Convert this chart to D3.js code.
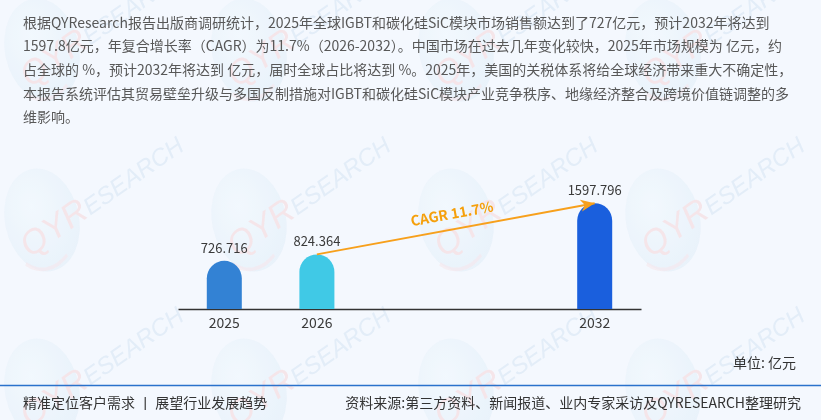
<!DOCTYPE html>
<html>
<head>
<meta charset="utf-8">
<script src="https://cdn.jsdelivr.net/npm/d3@7/dist/d3.min.js"></script>
<style>
  html, body { margin: 0; padding: 0; background: #f4f8fe; }
  svg { display: block; font-family: "Microsoft YaHei", "Noto Sans CJK SC", sans-serif; }
</style>
</head>
<body>
<div id="chart"></div>
<script>
// chart data
const years = ["2025", "2026", "2032"];
const values = [726.716, 824.364, 1597.796];
const barColors = ["#3382d4", "#40c9e6", "#1a5fdd"];
// the category axis keeps two empty slots between 2026 and 2032
const slots = ["2025", "2026", "s1", "s2", "2032"];
const cagrLabel = "CAGR 11.7%";
const unitLabel = "单位: 亿元";

const paragraph = [
  "根据QYResearch报告出版商调研统计，2025年全球IGBT和碳化硅SiC模块市场销售额达到了727亿元，预计2032年将达到",
  "1597.8亿元，年复合增长率（CAGR）为11.7%（2026-2032）。中国市场在过去几年变化较快，2025年市场规模为 亿元，约",
  "占全球的 %，预计2032年将达到 亿元，届时全球占比将达到 %。2025年，美国的关税体系将给全球经济带来重大不确定性，",
  "本报告系统评估其贸易壁垒升级与多国反制措施对IGBT和碳化硅SiC模块产业竞争秩序、地缘经济整合及跨境价值链调整的多",
  "维影响。"
];
const footerLeft = "精准定位客户需求 丨 展望行业发展趋势";
const footerRight = "资料来源:第三方资料、新闻报道、业内专家采访及QYRESEARCH整理研究";

const W = 821, H = 420;
const svg = d3.select("#chart").append("svg")
    .attr("width", W)
    .attr("height", H);

svg.append("rect").attr("width", W).attr("height", H).attr("fill", "#f4f8fe");

// faint logo watermarks
const defs = svg.append("defs");
const grad = defs.append("radialGradient").attr("id", "globe").attr("cx", "40%").attr("cy", "35%").attr("r", "65%");
grad.append("stop").attr("offset", "0%").attr("stop-color", "#f0f7fd");
grad.append("stop").attr("offset", "100%").attr("stop-color", "#dbeaf6");

const wm = defs.append("g").attr("id", "wm");
wm.append("ellipse")
    .attr("rx", 37).attr("ry", 52)
    .attr("transform", "rotate(-12)")
    .attr("fill", "url(#globe)")
    .attr("opacity", 0.6);
wm.append("path")
    .attr("d", d3.arc()({innerRadius: 38, outerRadius: 41, startAngle: Math.PI * 0.75, endAngle: Math.PI * 1.15}))
    .attr("transform", "scale(0.9,1.25)")
    .attr("fill", "#f6dfe2")
    .attr("opacity", 0.6);
const wmText = wm.append("text")
    .attr("transform", "translate(-12,38) rotate(-35)")
    .attr("font-style", "italic")
    .attr("font-family", "Arial, 'Liberation Sans', sans-serif");
wmText.append("tspan").attr("font-size", 34).attr("fill", "#f5dde0").text("QYR");
wmText.append("tspan").attr("font-size", 24).attr("fill", "#dbe8f5").text("ESEARCH");

const wmLayer = svg.append("g").attr("opacity", 0.7);
for (let j = 0; j < 3; j++) {
  for (let k = 0; k < 4; k++) {
    wmLayer.append("use").attr("href", "#wm")
        .attr("x", 42 + 207 * k)
        .attr("y", 50 + 170 * j);
  }
}

// intro text
svg.append("g").selectAll("text").data(paragraph)
  .enter()
  .append("text")
    .attr("x", 23)
    .attr("y", (d, i) => 27.5 + i * 23.7)
    .attr("font-size", 14)
    .attr("fill", "#585858")
    .text(d => d);

// scales
const x = d3.scaleBand()
    .domain(slots)
    .range([178, 641])
    .paddingInner(0.622)
    .paddingOuter(0.311);
const y = d3.scaleLinear()
    .domain([0, 1600])
    .range([309, 203]);

const xAxis = d3.axisBottom(x)
    .tickValues(years)
    .tickSize(0)
    .tickPadding(9);
const axisG = svg.append("g")
    .attr("transform", `translate(0,${y(0)})`)
    .call(xAxis);
axisG.select(".domain").attr("stroke", "#333").attr("stroke-width", 1.4);
axisG.selectAll(".tick text")
    .attr("font-size", 14)
    .attr("fill", "#3a3a3a")
    .attr("font-family", "'Microsoft YaHei', 'Noto Sans CJK SC', sans-serif");

function roundTop(d, i) {
  const x0 = x(d), w = x.bandwidth(), r = w / 2;
  const t = y(values[i]), b = y(0);
  return `M${x0},${b}L${x0},${t + r}A${r},${r} 0 0 1 ${x0 + w},${t + r}L${x0 + w},${b}Z`;
}

svg.append("g").selectAll("path").data(years)
  .enter()
  .append("path")
    .attr("d", roundTop)
    .attr("fill", (d, i) => barColors[i]);

svg.append("g").selectAll("text").data(years)
  .enter()
  .append("text")
    .attr("x", d => x(d) + x.bandwidth() / 2)
    .attr("y", (d, i) => y(values[i]) - 8)
    .attr("text-anchor", "middle")
    .attr("font-size", 13)
    .attr("fill", "#3a3a3a")
    .text((d, i) => values[i]);

// CAGR arrow from 2026 to 2032
const ax0 = x("2026") + x.bandwidth() / 2, ay0 = y(values[1]);
const ax1 = x("2032") + x.bandwidth() / 2, ay1 = y(values[2]);
defs.append("marker")
    .attr("id", "head")
    .attr("viewBox", "-14 -7 16 14")
    .attr("markerWidth", 16)
    .attr("markerHeight", 14)
    .attr("markerUnits", "userSpaceOnUse")
    .attr("orient", "auto")
    .append("path")
    .attr("d", "M0,0L-14,-6L-10,0L-14,6Z")
    .attr("fill", "#f7a01c");

svg.append("line")
    .attr("x1", ax0).attr("y1", ay0)
    .attr("x2", ax1).attr("y2", ay1)
    .attr("stroke", "#f7a01c")
    .attr("stroke-width", 2)
    .attr("marker-end", "url(#head)");

const angle = Math.atan2(ay1 - ay0, ax1 - ax0) * 180 / Math.PI;
svg.append("text")
    .attr("transform", `translate(${(ax0 + ax1) / 2 - 3},${(ay0 + ay1) / 2 - 10}) rotate(${angle})`)
    .attr("text-anchor", "middle")
    .attr("font-size", 14)
    .attr("font-weight", "bold")
    .attr("fill", "#f5a00c")
    .text(cagrLabel);

svg.append("text")
    .attr("x", 796).attr("y", 368)
    .attr("text-anchor", "end")
    .attr("font-size", 14)
    .attr("fill", "#333")
    .text(unitLabel);

// footer
svg.append("line")
    .attr("x1", 0).attr("x2", W)
    .attr("y1", 385.5).attr("y2", 385.5)
    .attr("stroke", "#2a72cc")
    .attr("stroke-width", 1.6);
svg.append("text")
    .attr("x", 23).attr("y", 408)
    .attr("font-size", 14)
    .attr("fill", "#333")
    .attr("xml:space", "preserve")
    .text(footerLeft);
svg.append("text")
    .attr("x", 801).attr("y", 408)
    .attr("text-anchor", "end")
    .attr("font-size", 14)
    .attr("fill", "#333")
    .text(footerRight);
</script>
</body>
</html>
